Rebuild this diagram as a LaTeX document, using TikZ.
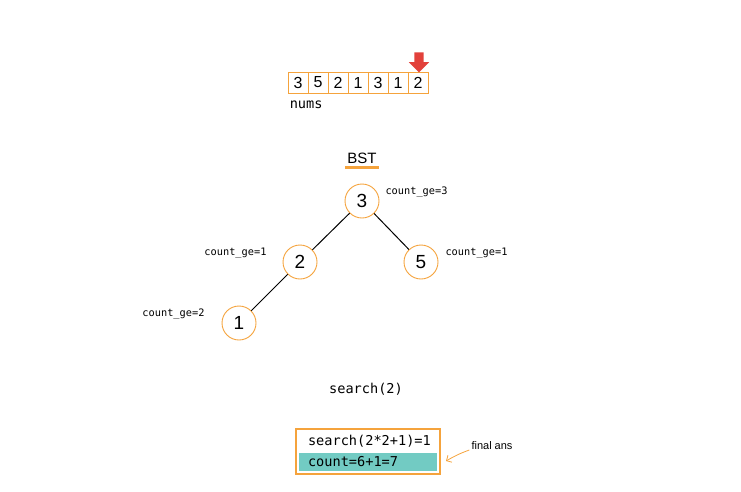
\documentclass[tikz,border=0pt]{standalone}
\usepackage{fontspec}
\setmainfont{Liberation Sans}
\setmonofont{DejaVu Sans Mono}
\usepackage{tikz}
\usetikzlibrary{shapes.geometric, shapes.arrows, arrows.meta, positioning, fit, calc}
\usepackage{xcolor}
\definecolor{bstorange}{HTML}{F5A33C}
\definecolor{ptrred}{HTML}{E2413B}
\definecolor{ansteal}{HTML}{72CBC3}
\tikzset{
  cell/.style={rectangle, draw=bstorange, line width=0.9pt, minimum width=20pt,
    minimum height=21pt, inner sep=0pt, font=\fontsize{16}{16}\selectfont},
  treenode/.style={circle, draw=bstorange, line width=0.9pt, fill=white,
    minimum size=34pt, inner sep=0pt, font=\fontsize{19}{19}\selectfont},
  cnt/.style={inner sep=0pt, font=\ttfamily\fontsize{10.3}{11}\selectfont},
  mono/.style={inner sep=2pt, font=\ttfamily\fontsize{13.6}{14}\selectfont},
  ansline/.style={mono, text width=120pt, inner xsep=9pt, minimum height=18pt,
    align=left, inner ysep=0pt},
  ptr/.style={single arrow, fill=ptrred, draw=none, shape border rotate=270,
    minimum height=20pt, inner sep=4.5pt, single arrow head extend=5.5pt},
  edge/.style={line width=1pt},
  finarr/.style={-{Straight Barb[length=4pt]}, draw=bstorange, line width=0.8pt},
}

\begin{document}
\begin{tikzpicture}[x=1pt, y=-1pt]
  \useasboundingbox (0,0) rectangle (741,491);

  \foreach \v [count=\i] in {3,5,2,1,3,1,2}
    \node[cell] (c\i) at ({278+20*\i},82.5) {\v};
  \node[ptr] (ptr) at (419,60) {};
  \node[mono, below right=5pt and 0pt of c1.south west] (nums) {nums};

  \node[inner sep=2pt, font=\fontsize{15}{15}\selectfont] (bst) at (362,158) {BST};
  \draw[bstorange, line width=3pt] ($(bst.south west)+(0,-1.5pt)$) -- ($(bst.south east)+(0,-1.5pt)$);

  \node[treenode] (n3) at (362,201) {3};
  \node[treenode] (n2) at (300,262) {2};
  \node[treenode] (n5) at (421,262) {5};
  \node[treenode] (n1) at (239,323) {1};
  \draw[edge] (n3) -- (n2);
  \draw[edge] (n3) -- (n5);
  \draw[edge] (n2) -- (n1);

  \node[cnt, below right=-2pt and 11pt of n3.north east] (g3) {count\_ge=3};
  \node[cnt, below left=-2pt and 21pt of n2.north west] (g2) {count\_ge=1};
  \node[cnt, below right=-2pt and 12pt of n5.north east] (g5) {count\_ge=1};
  \node[cnt, below left=-2pt and 22pt of n1.north west] (g1) {count\_ge=2};

  \node[mono] (srch) at (366,389) {search(2)};

  \node[ansline] (l1) at (368,441) {search(2*2+1)=1};
  \node[ansline, fill=ansteal] (l2) at (368,462) {count=6+1=7};
  \node[draw=bstorange, line width=2pt, inner sep=3pt, fit=(l1)(l2)] (res) {};

  \node[inner sep=1pt, font=\fontsize{11}{11}\selectfont] (fa) at (492,446) {final ans};
  \coordinate (tip) at (446,461);
  \draw[finarr] ($(fa.west)+(-1pt,-4pt)$) to[out=200, in=30] (tip);
\end{tikzpicture}
\end{document}
